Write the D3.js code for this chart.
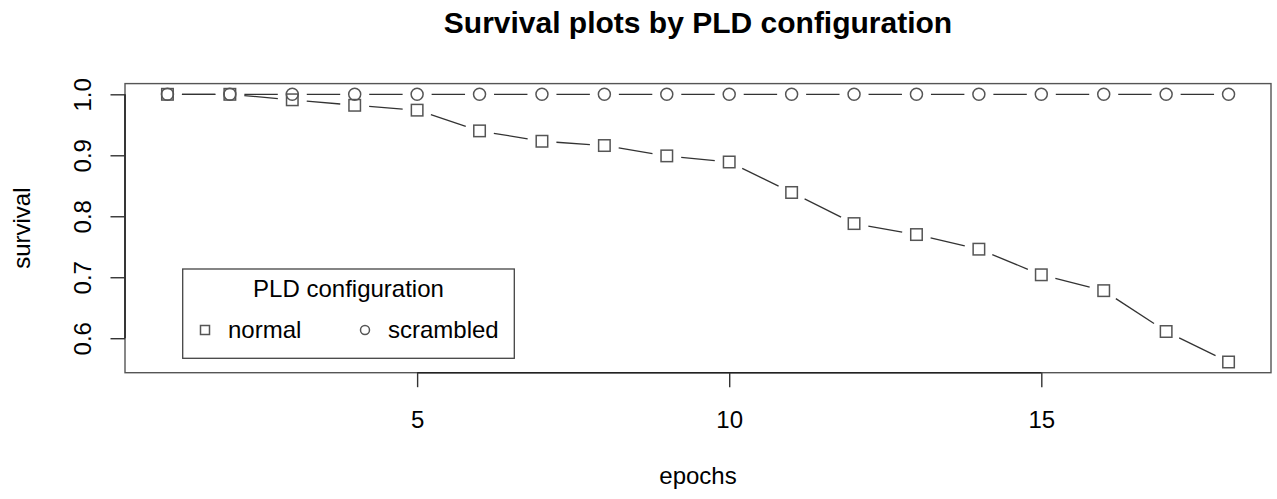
<!DOCTYPE html>
<html>
    <head>
        <meta charset="utf-8">
        <title>Survival plots by PLD configuration</title>
        <style>
            body{
                margin:0;
                background:white;
            }
            svg text{
                font-family:"Liberation Sans", Arial, sans-serif;
                fill:black;
            }
            .frame{
                fill:none;
                stroke:#555;
                stroke-width:1.4px;
            }
            .seg{
                stroke:#333;
                stroke-width:1.3px;
            }
            .pt{
                fill:none;
                stroke:#555;
                stroke-width:1.5px;
            }
        </style>
    </head>
    <body>
        <div id="chart"></div>
        <script src="https://cdn.jsdelivr.net/npm/d3@7"></script>
        <script type="text/javascript">

        // data
        var epochs=[1,2,3,4,5,6,7,8,9,10,11,12,13,14,15,16,17,18];
        var normal=[1.0,1.0,0.991,0.982,0.974,0.940,0.923,0.916,0.899,0.889,0.839,0.788,0.770,0.746,0.704,0.678,0.611,0.561];
        var scrambled=[1,1,1,1,1,1,1,1,1,1,1,1,1,1,1,1,1,1];
        var xTicks=[5,10,15];
        var yTicks=[0.6,0.7,0.8,0.9,1.0];
        var seriesNames=["normal","scrambled"];

        var width=1277;
        var height=499;
        var plotLeft=125, plotRight=1271, plotTop=83.6, plotBottom=372.7;

        var svg=d3.select("#chart")
                  .append("svg")
                  .attr("width",width)
                  .attr("height",height);

        // R style 4% padding on both axes
        var xmin=d3.min(epochs), xmax=d3.max(epochs);
        var xpad=(xmax-xmin)*0.04;
        var xScale=d3.scaleLinear()
                     .domain([xmin-xpad,xmax+xpad])
                     .range([plotLeft,plotRight]);

        var ymin=d3.min(normal.concat(scrambled)), ymax=d3.max(normal.concat(scrambled));
        var ypad=(ymax-ymin)*0.04;
        var yScale=d3.scaleLinear()
                     .domain([ymin-ypad,ymax+ypad])
                     .range([plotBottom,plotTop]);

        //----------------- frame + axes -----------------
        svg.append("rect")
           .attr("class","frame")
           .attr("x",plotLeft)
           .attr("y",plotTop)
           .attr("width",plotRight-plotLeft)
           .attr("height",plotBottom-plotTop);

        var xAxis=d3.axisBottom(xScale)
                    .tickValues(xTicks)
                    .tickSize(14.5)
                    .tickFormat(d3.format("d"));

        var gx=svg.append("g")
                  .attr("transform","translate(0,"+plotBottom+")")
                  .call(xAxis);
        gx.select(".domain")
          .attr("d","M"+xScale(xTicks[0])+",0H"+xScale(xTicks[xTicks.length-1]))
          .attr("stroke","#222")
          .attr("stroke-width",1.6);
        gx.selectAll(".tick line").attr("stroke","#333").attr("stroke-width",1.4);
        gx.selectAll(".tick text")
          .attr("y",null)
          .attr("dy",null)
          .attr("transform","translate(0,55)")
          .attr("font-size","24px")
          .attr("font-family",null)
          .attr("fill","black");

        var yAxis=d3.axisLeft(yScale)
                    .tickValues(yTicks)
                    .tickSize(14.5)
                    .tickFormat(d3.format(".1f"));

        var gy=svg.append("g")
                  .attr("transform","translate("+plotLeft+",0)")
                  .call(yAxis);
        gy.select(".domain")
          .attr("d","M0,"+yScale(yTicks[0])+"V"+yScale(yTicks[yTicks.length-1]))
          .attr("stroke","#222")
          .attr("stroke-width",1.6);
        gy.selectAll(".tick line").attr("stroke","#333").attr("stroke-width",1.4);
        gy.selectAll(".tick text")
          .attr("x",null)
          .attr("dy",null)
          .attr("text-anchor","middle")
          .attr("transform","translate(-34.5,0) rotate(-90)")
          .attr("font-size","24px")
          .attr("font-family",null)
          .attr("fill","black");

        //----------------- titles -----------------
        svg.append("text")
           .text("Survival plots by PLD configuration")
           .attr("x",(plotLeft+plotRight)/2)
           .attr("y",33)
           .attr("text-anchor","middle")
           .attr("font-size","30px")
           .attr("font-weight","bold");

        svg.append("text")
           .text("epochs")
           .attr("x",(plotLeft+plotRight)/2)
           .attr("y",484)
           .attr("text-anchor","middle")
           .attr("font-size","24px");

        svg.append("text")
           .text("survival")
           .attr("text-anchor","middle")
           .attr("font-size","24px")
           .attr("transform","translate(30,"+((plotTop+plotBottom)/2)+") rotate(-90)");

        //----------------- lines with gaps (type = "b") -----------------
        var gap=14.5;
        function drawSeries(values){
            var pts=epochs.map(function(e,i){ return [xScale(e),yScale(values[i])]; });
            var segs=[];
            for (var i=0;i<pts.length-1;i++)
            {
                var dx=pts[i+1][0]-pts[i][0], dy=pts[i+1][1]-pts[i][1];
                var len=Math.sqrt(dx*dx+dy*dy);
                if (len>2*gap){
                    var ux=dx/len, uy=dy/len;
                    segs.push([pts[i][0]+ux*gap,pts[i][1]+uy*gap,pts[i+1][0]-ux*gap,pts[i+1][1]-uy*gap]);
                }
            }
            svg.append("g").selectAll("line")
               .data(segs)
               .enter()
               .append("line")
               .attr("class","seg")
               .attr("x1",function(d){return d[0];})
               .attr("y1",function(d){return d[1];})
               .attr("x2",function(d){return d[2];})
               .attr("y2",function(d){return d[3];});
        }
        drawSeries(normal);
        drawSeries(scrambled);

        var sq=11.5;
        svg.append("g").selectAll("rect")
           .data(normal)
           .enter()
           .append("rect")
           .attr("class","pt")
           .attr("x",function(d,i){return xScale(epochs[i])-sq/2;})
           .attr("y",function(d){return yScale(d)-sq/2;})
           .attr("width",sq)
           .attr("height",sq);

        svg.append("g").selectAll("circle")
           .data(scrambled)
           .enter()
           .append("circle")
           .attr("class","pt")
           .attr("cx",function(d,i){return xScale(epochs[i]);})
           .attr("cy",function(d){return yScale(d);})
           .attr("r",6);

        //----------------- legend -----------------
        var lg=svg.append("g");
        lg.append("rect")
          .attr("x",182.7)
          .attr("y",269)
          .attr("width",331.6)
          .attr("height",89.3)
          .attr("fill","white")
          .attr("stroke","#444")
          .attr("stroke-width",1.3);
        lg.append("text")
          .text("PLD configuration")
          .attr("x",348.5)
          .attr("y",297)
          .attr("text-anchor","middle")
          .attr("font-size","24px");

        var lx=[205,365];
        lg.append("rect")
          .attr("class","pt")
          .attr("x",lx[0]-4.5)
          .attr("y",330-4.5)
          .attr("width",9)
          .attr("height",9);
        lg.append("circle")
          .attr("class","pt")
          .attr("cx",lx[1])
          .attr("cy",330)
          .attr("r",4.5);
        lg.selectAll("text.lab")
          .data(seriesNames)
          .enter()
          .append("text")
          .attr("class","lab")
          .text(function(d){return d;})
          .attr("x",function(d,i){return lx[i]+23;})
          .attr("y",337.5)
          .attr("font-size","24px");

        </script>
    </body>
</html>
